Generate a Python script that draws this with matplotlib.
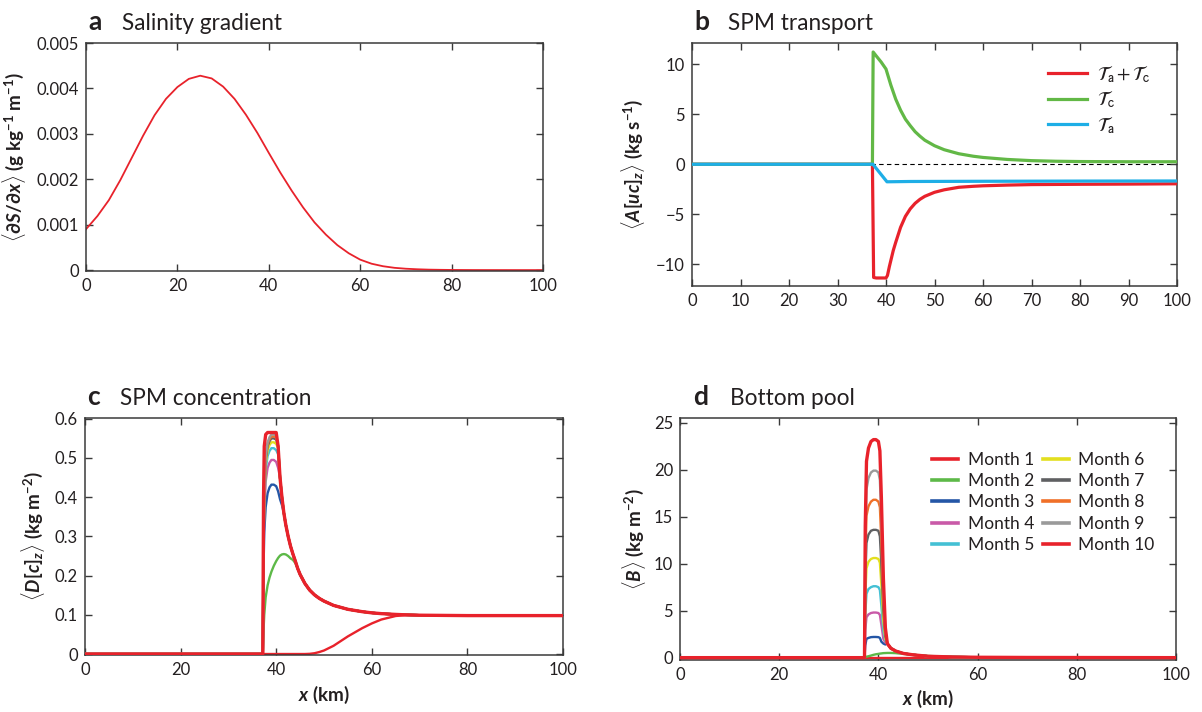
import matplotlib
matplotlib.use('Agg')
import matplotlib.pyplot as plt
from matplotlib.ticker import FixedLocator, FuncFormatter

plt.rcParams['font.family'] = ['Lato', 'DejaVu Sans']
plt.rcParams['mathtext.fontset'] = 'custom'
plt.rcParams['mathtext.rm'] = 'Lato:bold'
plt.rcParams['mathtext.it'] = 'Lato:bold:italic'
plt.rcParams['mathtext.bf'] = 'Lato:bold'
plt.rcParams['axes.unicode_minus'] = True

# ---------------- data ----------------
# (a) salinity gradient
xa = [0, 2.5, 5, 7.5, 10, 12.5, 15, 17.5, 20, 22.5, 25, 27.5, 30, 32.5, 35, 37.5, 40,
      42.5, 45, 47.5, 50, 52.5, 55, 57.5, 60, 62.5, 65, 67.5, 70, 72.5, 75, 77.5, 80,
      85, 90, 95, 100]
dSdx = [0.00090, 0.00119, 0.00154, 0.00198, 0.00247, 0.00296, 0.00341, 0.00377, 0.00403,
        0.00421, 0.00428, 0.00422, 0.00404, 0.00377, 0.00342, 0.00302, 0.00258,
        0.00215, 0.00175, 0.00138, 0.00105, 0.00078, 0.00055, 0.00037, 0.00023,
        0.00014, 0.000085, 0.00005, 0.00003, 0.000018, 0.00001, 0.000006, 0.000003,
        0.000001, 0.0000005, 0.0, 0.0]

# (b) SPM transport
xb_tc = [0, 37.2, 37.35, 38, 39, 40, 40.5, 41, 41.5, 42, 43, 44, 45, 46, 47, 48, 50, 52,
         55, 58, 60, 65, 70, 75, 80, 90, 100]
Tc = [0, 0, 11.2, 10.8, 10.2, 9.5, 8.7, 7.9, 7.2, 6.5, 5.4, 4.5, 3.85, 3.25, 2.8, 2.4,
      1.85, 1.45, 1.05, 0.8, 0.68, 0.48, 0.36, 0.3, 0.27, 0.25, 0.25]
xb_sum = [0, 37.2, 37.45, 38, 39, 40, 40.3, 40.7, 41, 41.5, 42, 43, 44, 45, 46, 47, 48,
          50, 52, 55, 58, 60, 65, 70, 80, 90, 100]
Tsum = [0, 0, -11.3, -11.35, -11.35, -11.35, -11.1, -10.2, -9.6, -8.6, -7.8, -6.3, -5.2,
        -4.45, -3.9, -3.5, -3.2, -2.8, -2.55, -2.3, -2.2, -2.15, -2.08, -2.03, -2.0,
        -1.98, -1.95]
xb_ta = [0, 37.3, 40.2, 45, 60, 80, 100]
Ta = [0, 0, -1.75, -1.72, -1.7, -1.68, -1.67]

# (c) SPM concentration, months 1..10
xc = [0, 37.2, 37.35, 37.5, 37.8, 38.2, 38.6, 39.0, 39.5, 40.0, 40.4, 40.8, 41.2, 41.6,
      42.0, 42.5, 43, 43.5, 44, 44.5, 45, 46, 47, 48, 49, 50, 52, 55, 58, 60, 62, 65,
      67, 70, 80, 100]
c_tail = [0.237, 0.218, 0.203, 0.18, 0.163, 0.151, 0.142, 0.135, 0.124, 0.114, 0.108,
          0.105, 0.103, 0.101, 0.1, 0.099, 0.098, 0.098]            # x >= 44
c_env_mid = [0.45, 0.40, 0.36, 0.33, 0.30, 0.275, 0.255]            # x = 40.8 .. 43.5
c_m1 = [0] * 22 + [0.0005, 0.002, 0.005, 0.009, 0.021, 0.045, 0.066, 0.078, 0.088,
                   0.097, 0.099, 0.099, 0.098, 0.098]
c_m2 = [0, 0, 0.06, 0.10, 0.145, 0.175, 0.195, 0.21, 0.225, 0.237, 0.245, 0.251, 0.254,
        0.255, 0.254, 0.25, 0.244, 0.24, 0.232] + c_tail[1:]
c_m3 = [0, 0, 0.22, 0.31, 0.375, 0.41, 0.425, 0.432, 0.432, 0.428, 0.415, 0.395, 0.38] + c_env_mid[2:] + c_tail
c_m4 = [0, 0, 0.25, 0.36, 0.44, 0.475, 0.488, 0.495, 0.495, 0.49, 0.475] + c_env_mid + c_tail
c_m5 = [0, 0, 0.27, 0.38, 0.47, 0.505, 0.518, 0.525, 0.525, 0.52, 0.51] + c_env_mid + c_tail
c_m6 = [0, 0, 0.28, 0.39, 0.485, 0.52, 0.533, 0.54, 0.54, 0.536, 0.525] + c_env_mid + c_tail
c_m7 = [0, 0, 0.28, 0.40, 0.495, 0.53, 0.543, 0.55, 0.55, 0.547, 0.53] + c_env_mid + c_tail
c_m8 = [0, 0, 0.29, 0.40, 0.50, 0.535, 0.548, 0.555, 0.555, 0.552, 0.53] + c_env_mid + c_tail
c_m9 = [0, 0, 0.29, 0.41, 0.505, 0.54, 0.553, 0.56, 0.56, 0.557, 0.53] + c_env_mid + c_tail
c_m10 = [0, 0, 0.40, 0.53, 0.56, 0.565, 0.565, 0.565, 0.565, 0.565, 0.53] + c_env_mid + c_tail
conc = [c_m1, c_m2, c_m3, c_m4, c_m5, c_m6, c_m7, c_m8, c_m9, c_m10]

# (d) bottom pool, months 1..10
xd = [0, 37.2, 37.35, 37.6, 38.0, 38.5, 39.0, 39.5, 40.0, 40.3, 40.6, 41.0, 41.4, 41.8,
      42.5, 43.5, 45, 47, 50, 55, 60, 70, 100]
d_tail = [1.5, 1.0, 0.7, 0.45, 0.3, 0.15, 0.07, 0.04, 0.02, 0.0]   # x >= 41.8
b_m1 = [0] * 23
b_m2 = [0, 0, 0.05, 0.1, 0.15, 0.22, 0.3, 0.36, 0.4, 0.43, 0.45, 0.48, 0.49, 0.5, 0.5,
        0.48, 0.4, 0.3, 0.18, 0.08, 0.04, 0.02, 0.0]
b_m3 = [0, 0, 1.3, 2.0, 2.1, 2.18, 2.2, 2.2, 2.18, 2.1, 1.7, 1.5, 1.4] + d_tail
b_m4 = [0, 0, 2.9, 4.3, 4.6, 4.75, 4.8, 4.8, 4.75, 4.55, 3.5, 2.0, 1.6] + d_tail
b_m5 = [0, 0, 4.6, 6.8, 7.3, 7.5, 7.6, 7.6, 7.5, 7.2, 5.5, 2.9, 1.8] + d_tail
b_m6 = [0, 0, 6.4, 9.5, 10.2, 10.5, 10.6, 10.6, 10.5, 10.1, 7.7, 3.9, 2.0] + d_tail
b_m7 = [0, 0, 8.2, 12.2, 13.1, 13.5, 13.6, 13.6, 13.5, 12.9, 9.9, 5.0, 2.3] + d_tail
b_m8 = [0, 0, 10.1, 15.1, 16.1, 16.6, 16.8, 16.8, 16.6, 16.0, 12.3, 6.2, 2.6] + d_tail
b_m9 = [0, 0, 11.9, 17.9, 19.1, 19.7, 19.9, 19.9, 19.7, 18.9, 14.5, 7.3, 2.9] + d_tail
b_m10 = [0, 0, 14.0, 20.9, 22.3, 23.0, 23.2, 23.2, 23.0, 22.0, 17.0, 8.5, 3.2] + d_tail
pool = [b_m1, b_m2, b_m3, b_m4, b_m5, b_m6, b_m7, b_m8, b_m9, b_m10]

month_labels = ['Month %d' % i for i in range(1, 11)]
month_colors = ['#e8222b', '#5db948', '#2456a6', '#c95aa8', '#44c0d4',
                '#e3df1f', '#5f6062', '#f07028', '#9a9a9a', '#e8222b']

# ---------------- figure ----------------
W, H = 1202, 712
fig = plt.figure(figsize=(W / 100, H / 100), dpi=100)


def axes_px(l, t, r, b):
    return fig.add_axes([l / W, 1 - b / H, (r - l) / W, (b - t) / H])


spine_col = '#3a3a3a'
txt_col = '#231f20'


def style(ax):
    for s in ax.spines.values():
        s.set_color(spine_col)
        s.set_linewidth(1.1)
    ax.tick_params(direction='in', top=True, right=True, length=5, width=1,
                   color=spine_col, labelsize=12, pad=5, labelcolor=txt_col)


def px_to_axx(ax_l, ax_r, px):
    return (px - ax_l) / (ax_r - ax_l)


def title(xl, xt, yb, letter, text):
    fig.text(xl / W, 1 - yb / H, letter, fontsize=19, fontweight='bold',
             va='baseline', ha='left', color=txt_col)
    fig.text(xt / W, 1 - yb / H, text, fontsize=16.3, va='baseline', ha='left',
             color=txt_col)


lab_kw = dict(fontsize=13.5, fontweight='bold', color=txt_col)

# (a)
aL, aT, aR, aB = 86, 43, 543, 271
ax = axes_px(aL, aT, aR, aB)
ax.plot(xa, dSdx, color='#e8222b', lw=1.3)
ax.set_xlim(0, 100)
ax.set_ylim(-0.00002, 0.005)
ax.xaxis.set_major_locator(FixedLocator([0, 20, 40, 60, 80, 100]))
ax.yaxis.set_major_locator(FixedLocator([0, 0.001, 0.002, 0.003, 0.004, 0.005]))
ax.yaxis.set_major_formatter(FuncFormatter(lambda v, p: '0' if abs(v) < 1e-9 else '%.3f' % v))
style(ax)
ax.set_ylabel(r'$\langle\partial S/\partial x\rangle$ (g kg$^{-1}$ m$^{-1}$)', **lab_kw)
ax.yaxis.set_label_coords(px_to_axx(aL, aR, 28), 0.5)
title(88, 122, 30, 'a', 'Salinity gradient')

# (b)
bL, bT, bR, bB = 692, 43, 1177, 286
ax = axes_px(bL, bT, bR, bB)
ax.axhline(0, color='black', lw=0.8, ls=(0, (4, 3)), zorder=1)
ax.plot(xb_sum, Tsum, color='#e8222b', lw=2.3, label=r'$\mathcal{T}_\mathrm{a} + \mathcal{T}_\mathrm{c}$', zorder=3)
ax.plot(xb_tc, Tc, color='#62b846', lw=2.3, label=r'$\mathcal{T}_\mathrm{c}$', zorder=3)
ax.plot(xb_ta, Ta, color='#1eaee6', lw=2.3, label=r'$\mathcal{T}_\mathrm{a}$', zorder=4)
ax.set_xlim(0, 100)
ax.set_ylim(-12.15, 12.1)
ax.xaxis.set_major_locator(FixedLocator(list(range(0, 101, 10))))
ax.yaxis.set_major_locator(FixedLocator([-10, -5, 0, 5, 10]))
style(ax)
ax.set_ylabel(r'$\langle \mathit{A}[\mathit{uc}]_\mathit{z}\rangle$ (kg s$^{-1}$)', **lab_kw)
ax.yaxis.set_label_coords(px_to_axx(bL, bR, 647), 0.5)
leg = ax.legend(loc='upper left', bbox_to_anchor=(px_to_axx(bL, bR, 1048), 1 - (63 - bT) / (bB - bT)),
                frameon=False, fontsize=14, handlelength=2.0, handletextpad=0.5,
                labelspacing=0.2, borderpad=0, borderaxespad=0)
for t in leg.get_texts():
    t.set_math_fontfamily('stixsans')
    t.set_color(txt_col)
title(694, 728, 30, 'b', 'SPM transport')

# (c)
cL, cT, cR, cB = 85, 418, 563, 655
ax = axes_px(cL, cT, cR, cB)
for i, (ys, col) in enumerate(zip(conc, month_colors)):
    ax.plot(xc, ys, color=col, lw=2.4 if i == 9 else 1.7, zorder=2 + i)
ax.set_xlim(0, 100)
ax.set_ylim(-0.0025, 0.602)
ax.xaxis.set_major_locator(FixedLocator([0, 20, 40, 60, 80, 100]))
ax.yaxis.set_major_locator(FixedLocator([0, 0.1, 0.2, 0.3, 0.4, 0.5, 0.6]))
ax.yaxis.set_major_formatter(FuncFormatter(lambda v, p: '0' if abs(v) < 1e-9 else '%.1f' % v))
style(ax)
ax.set_ylabel(r'$\langle \mathit{D}[\mathit{c}]_\mathit{z}\rangle$ (kg m$^{-2}$)', **lab_kw)
ax.yaxis.set_label_coords(px_to_axx(cL, cR, 47), 0.5)
ax.set_xlabel(r'$\mathit{x}$ (km)', **lab_kw)
ax.xaxis.set_label_coords(0.5, -(684 - cB) / (cB - cT))
title(87, 120, 405, 'c', 'SPM concentration')

# (d)
dL, dT, dR, dB = 680, 418, 1176, 660
ax = axes_px(dL, dT, dR, dB)
for i, (ys, col, lab) in enumerate(zip(pool, month_colors, month_labels)):
    ax.plot(xd, ys, color=col, lw=2.4 if i == 9 else 1.7, zorder=2 + i, label=lab)
ax.set_xlim(0, 100)
ax.set_ylim(-0.25, 25.5)
ax.xaxis.set_major_locator(FixedLocator([0, 20, 40, 60, 80, 100]))
ax.yaxis.set_major_locator(FixedLocator([0, 5, 10, 15, 20, 25]))
style(ax)
ax.set_ylabel(r'$\langle \mathit{B}\rangle$ (kg m$^{-2}$)', **lab_kw)
ax.yaxis.set_label_coords(px_to_axx(dL, dR, 648), 0.5)
ax.set_xlabel(r'$\mathit{x}$ (km)', **lab_kw)
ax.xaxis.set_label_coords(0.5, -(688 - dB) / (dB - dT))
leg = ax.legend(loc='upper left', bbox_to_anchor=(px_to_axx(dL, dR, 932), 1 - (452 - dT) / (dB - dT)),
                ncol=2, frameon=False, fontsize=12.5, handlelength=1.5, handletextpad=0.55,
                labelspacing=0.3, columnspacing=0.5, borderpad=0, borderaxespad=0)
for lh in leg.get_lines():
    lh.set_linewidth(2.6)
for t in leg.get_texts():
    t.set_color(txt_col)
title(693, 730, 405, 'd', 'Bottom pool')

fig.savefig('out.png', dpi=100)
